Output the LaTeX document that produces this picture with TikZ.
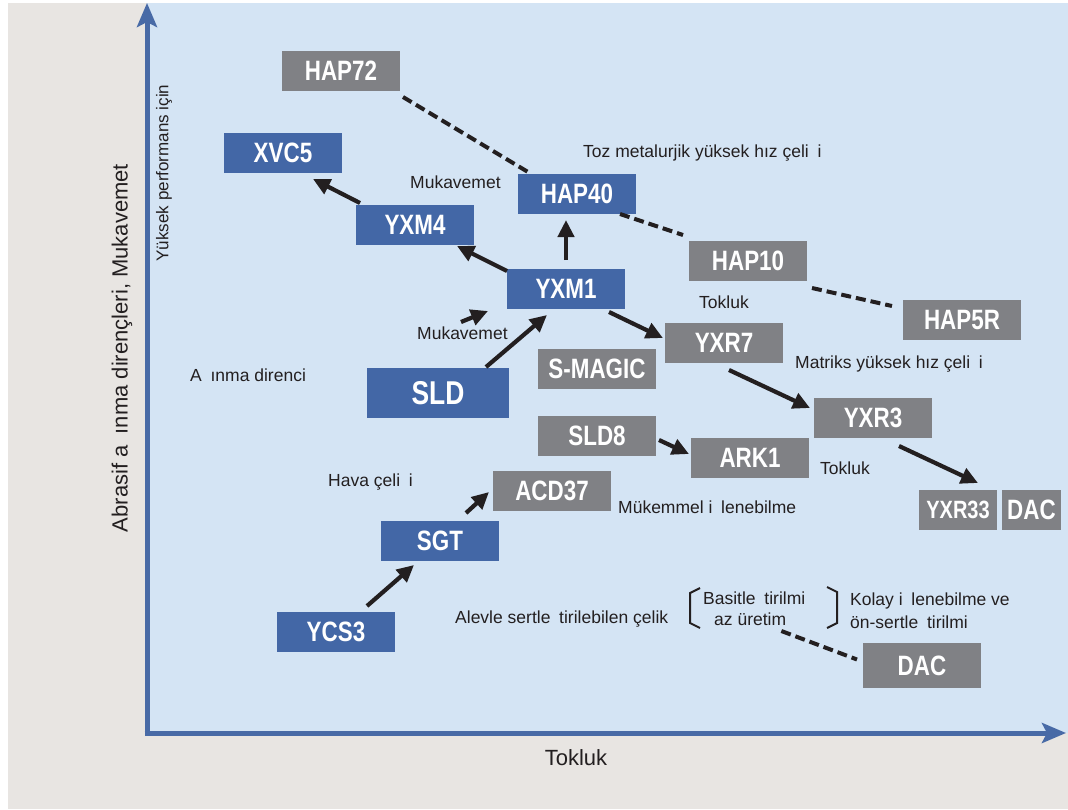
\documentclass[tikz,border=0pt]{standalone}
\usepackage{fontspec}
\setmainfont{Liberation Sans}
\newfontfamily\boxfont{Liberation Sans}[FakeStretch=0.8]
\usetikzlibrary{arrows.meta}
\definecolor{bggray}{RGB}{232,229,226}
\definecolor{bgblue}{RGB}{212,228,244}
\definecolor{axisblue}{RGB}{72,106,166}
\definecolor{steelblue}{RGB}{67,103,166}
\definecolor{steelgray}{RGB}{128,129,133}
\definecolor{ink}{RGB}{35,31,32}

\begin{document}
\begin{tikzpicture}[x=1pt,y=-1pt,
  box/.style={rectangle,minimum width=118pt,minimum height=40pt,inner sep=0pt,text=white,
    font=\boxfont\bfseries\fontsize{28}{28}\selectfont},
  bluebox/.style={box,fill=steelblue},
  graybox/.style={box,fill=steelgray},
  lbl/.style={anchor=west,inner sep=0pt,text=ink,font=\fontsize{17.5}{21}\selectfont},
  axis/.style={axisblue,line width=5pt,-{Stealth[length=24pt,width=20pt,inset=5pt]}},
  arr/.style={draw=ink,line width=4.2pt,-{Triangle[length=17pt,width=16pt]}},
  dashlink/.style={draw=ink,line width=4pt,dash pattern=on 10pt off 5pt}]
\useasboundingbox (0,0) rectangle (1068,809);
\fill[bggray] (8,3) rectangle (1068,809);
\fill[bgblue] (147,3) rectangle (1068,733);
\draw[axis] (147,735.5) -- (147,3);
\draw[axis] (144.5,733) -- (1066,733);

% axis labels
\path (122,348) node[rotate=90,text=ink,font=\fontsize{22}{22}\selectfont] (ylabel) {Abrasif a\enspace ınma dirençleri, Mukavemet};
\path (164,173) node[rotate=90,text=ink,font=\fontsize{17}{17}\selectfont] (perf) {Yüksek performans için};
\path (576,758) node[text=ink,font=\fontsize{22}{22}\selectfont] (xlabel) {Tokluk};

% steel grades
\path (341,71) node[graybox] (HAP72) {HAP72};
\path (283,153) node[bluebox] (XVC5) {XVC5};
\path (577,194) node[bluebox] (HAP40) {HAP40};
\path (415,225) node[bluebox] (YXM4) {YXM4};
\path (748,261) node[graybox] (HAP10) {HAP10};
\path (566,289) node[bluebox] (YXM1) {YXM1};
\path (962,320) node[graybox] (HAP5R) {HAP5R};
\path (724,343) node[graybox] (YXR7) {YXR7};
\path (597,369) node[graybox] (SMAGIC) {S-MAGIC};
\path (438,393) node[bluebox,minimum width=142pt,minimum height=50pt,
  font=\boxfont\bfseries\fontsize{33}{33}\selectfont] (SLD) {SLD};
\path (873,418) node[graybox] (YXR3) {YXR3};
\path (597,436) node[graybox] (SLD8) {SLD8};
\path (750,458) node[graybox] (ARK1) {ARK1};
\path (552,491) node[graybox] (ACD37) {ACD37};
\path (958,510) node[graybox,minimum width=78pt,
  font=\boxfont\bfseries\fontsize{25}{25}\selectfont] (YXR33) {YXR33};
\path (1031.5,510) node[graybox,minimum width=59pt] (DACs) {DAC};
\path (440,541) node[bluebox] (SGT) {SGT};
\path (336,632) node[bluebox] (YCS3) {YCS3};
\path (922,665.5) node[graybox,minimum height=45pt] (DAC) {DAC};

% notes
\path (583,153) node[lbl] (tozhss) {Toz metalurjik yüksek hız çeli\enspace i};
\path (410,182) node[lbl] (muk1) {Mukavemet};
\path (699,302) node[lbl] (tok1) {Tokluk};
\path (417,333) node[lbl] (muk2) {Mukavemet};
\path (795,364) node[lbl] (matrix) {Matriks yüksek hız çeli\enspace i};
\path (190,375) node[lbl] (asinma) {A\enspace ınma direnci};
\path (328,482) node[lbl] (hava) {Hava çeli\enspace i};
\path (618,507) node[lbl] (mukemmel) {Mükemmel i\enspace lenebilme};
\path (820,468) node[lbl] (tok2) {Tokluk};
\path (455,619) node[lbl] (alevle) {Alevle sertle\enspace tirilebilen çelik};
\path (703,598) node[lbl] (basit) {Basitle\enspace tirilmi};
\path (714,619) node[lbl] (azu) {az üretim};
\path (850,601) node[lbl] (kolay) {Kolay i\enspace lenebilme ve};
\path (850,622) node[lbl] (onsert) {ön-sertle\enspace tirilmi};
\draw[ink,line width=2pt] (700,588) -- (690,593) -- (690,623) -- (700,628);
\draw[ink,line width=2pt] (827,587) -- (837,592) -- (837,623) -- (827,628);

% arrows
\draw[arr] ([xshift=-55pt,yshift=22pt]YXM4.center) -- ([xshift=30pt,yshift=-26pt]XVC5.center);
\draw[arr] ([xshift=-59pt,yshift=18pt]YXM1.center) -- ([xshift=42pt,yshift=-21pt]YXM4.center);
\draw[arr] ([yshift=29pt]YXM1.center) -- ([xshift=-11pt,yshift=-26pt]HAP40.center);
\draw[arr] ([xshift=43pt,yshift=-23pt]YXM1.center) -- ([xshift=-61pt,yshift=5pt]YXR7.center);
\draw[arr] ([xshift=48pt,yshift=26pt]SLD.center) -- ([xshift=-19pt,yshift=-26pt]YXM1.center);
\draw[arr] ([xshift=5pt,yshift=-27pt]YXR7.center) -- ([xshift=-63pt,yshift=10pt]YXR3.center);
\draw[arr] ([xshift=62pt,yshift=-4pt]SLD8.center) -- ([xshift=-61pt,yshift=4pt]ARK1.center);
\draw[arr] ([xshift=26pt,yshift=-28pt]YXR3.center) -- ([xshift=20pt,yshift=27pt]YXR33.center);
\draw[arr] ([xshift=26pt,yshift=28pt]SGT.center) -- ([xshift=-63pt,yshift=-1pt]ACD37.center);
\draw[arr] ([xshift=31pt,yshift=26pt]YCS3.center) -- ([xshift=-26pt,yshift=-24pt]SGT.center);
\coordinate (mtail) at (461,322);
\coordinate (mhead) at (488,311);
\draw[arr] (mtail) -- (mhead);

% dashed links
\draw[dashlink] ([xshift=62pt,yshift=-26pt]HAP72.center) -- ([xshift=-49pt,yshift=22pt]HAP40.center);
\draw[dashlink] ([xshift=43pt,yshift=-20pt]HAP40.center) -- ([xshift=-65pt,yshift=26pt]HAP10.center);
\draw[dashlink] ([xshift=64pt,yshift=-27pt]HAP10.center) -- ([xshift=-70pt,yshift=14pt]HAP5R.center);
\draw[dashlink] ([xshift=-5pt,yshift=-12pt]azu.east) -- ([xshift=-65pt,yshift=6pt]DAC.center);
\end{tikzpicture}
\end{document}
